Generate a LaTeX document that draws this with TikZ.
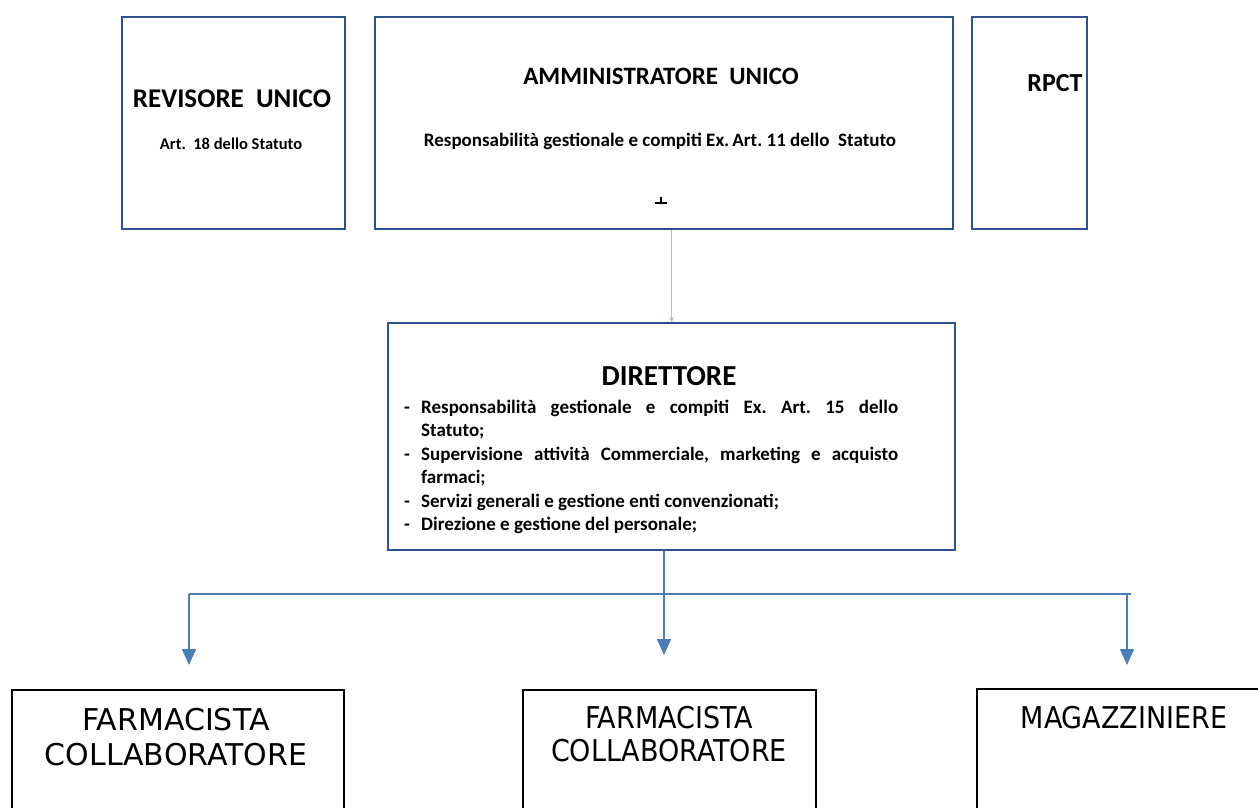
\documentclass[tikz,border=0pt]{standalone}
\usepackage{fontspec}
\setmainfont{Carlito}
\newfontfamily\verdana{DejaVu Sans}
\newfontfamily\tahoma{DejaVu Sans Condensed}
\usetikzlibrary{arrows.meta,positioning,calc}
\definecolor{orgblue}{HTML}{2F528F}
\definecolor{linkblue}{HTML}{4A7EBB}
\definecolor{paleblue}{HTML}{9DC3E6}
\frenchspacing

\begin{document}
\begin{tikzpicture}[x=1pt, y=-1pt,
    topbox/.style={draw=orgblue, line width=2.4pt, rectangle, anchor=north west, inner sep=0pt},
    lowbox/.style={draw=black, line width=1.6pt, rectangle, anchor=north west, inner sep=0pt},
    head/.style={font=\bfseries\fontsize{#1}{#1}\selectfont},
    link/.style={draw=linkblue, line width=1.7pt},
    >={Triangle[width=14pt,length=16pt]}]
    \clip (0,0) rectangle (1258,807);
    % Top row
    \node[topbox, minimum width=223, minimum height=212] (revisore) at (121,16) {};
    \node[topbox, minimum width=578, minimum height=212] (amm) at (374,16) {};
    \node[topbox, minimum width=115, minimum height=212] (rpct) at (971,16) {};
    \node[head=27] (revtitle) at (232,99) {REVISORE\ \ UNICO};
    \node[head=16.5] (revart) at (231,144) {Art.\ \ 18 dello Statuto};
    \node[head=25] (ammtitle) at (661,76) {AMMINISTRATORE\ \ UNICO};
    \node[head=19] (ammresp) at (660,141) {Responsabilità gestionale e compiti Ex.\,Art. 11 dello\ \ Statuto};
    \node[head=26] (rpcttitle) at (1055,83) {RPCT};
    \draw[line width=1.3pt] (655,203) -- (667,203);
    \draw[line width=1.3pt] (661,197) -- (661,203);
    % Direttore
    \node[topbox, minimum width=567, minimum height=227] (direttore) at (387,322) {};
    \node[head=29] (dirtitle) at (669,376) {DIRETTORE};
    \node[anchor=base west, inner sep=0pt, font=\bfseries\fontsize{19}{23.5}\selectfont] (dirlist) at (404,413)
      {\parbox[t]{494pt}{%
        \hangindent=17pt\hangafter=1\makebox[17pt][l]{-}Responsabilità gestionale e compiti Ex. Art. 15 dello\linebreak Statuto;\par
        \hangindent=17pt\hangafter=1\makebox[17pt][l]{-}Supervisione attività Commerciale, marketing e acquisto\linebreak farmaci;\par
        \hangindent=17pt\hangafter=1\makebox[17pt][l]{-}Servizi generali e gestione enti convenzionati;\par
        \hangindent=17pt\hangafter=1\makebox[17pt][l]{-}Direzione e gestione del personale;}};
    % Bottom row
    \node[lowbox, minimum width=332, minimum height=160] (farm1) at (11,689) {};
    \node[lowbox, minimum width=293, minimum height=160] (farm2) at (522,689) {};
    \node[lowbox, minimum width=300, minimum height=160] (magaz) at (976,688) {};
    \node[font=\verdana\fontsize{30}{35}\selectfont, align=center] (farm1txt) at (176,737) {FARMACISTA\\COLLABORATORE};
    \node[font=\tahoma\fontsize{30}{33}\selectfont, align=center] (farm2txt) at (669,734) {FARMACISTA\\COLLABORATORE};
    \node[font=\tahoma\fontsize{30}{33}\selectfont] (magaztxt) at (1124,718) {MAGAZZINIERE};
    % Connectors
    \coordinate (bus) at (664,594);
    \coordinate (busL) at (189,594);
    \coordinate (busR) at (1127,594);
    \coordinate (busEnd) at (1131,594);
    \draw[draw=paleblue, line width=1.1pt, -{Stealth[length=5pt,width=5pt]}] (amm.south -| direttore.north) -- (direttore.north);
    \draw[link] (bus |- direttore.south) -- (bus);
    \draw[draw=linkblue, line width=1.2pt] (busL) -- (busEnd);
    \draw[link, ->, shorten >=24pt] (busL) -- (busL |- farm1.north);
    \draw[link, ->, shorten >=34pt] (bus) -- (bus |- farm2.north);
    \draw[link, ->, shorten >=23pt] (busR) -- (busR |- magaz.north);
\end{tikzpicture}
\end{document}
